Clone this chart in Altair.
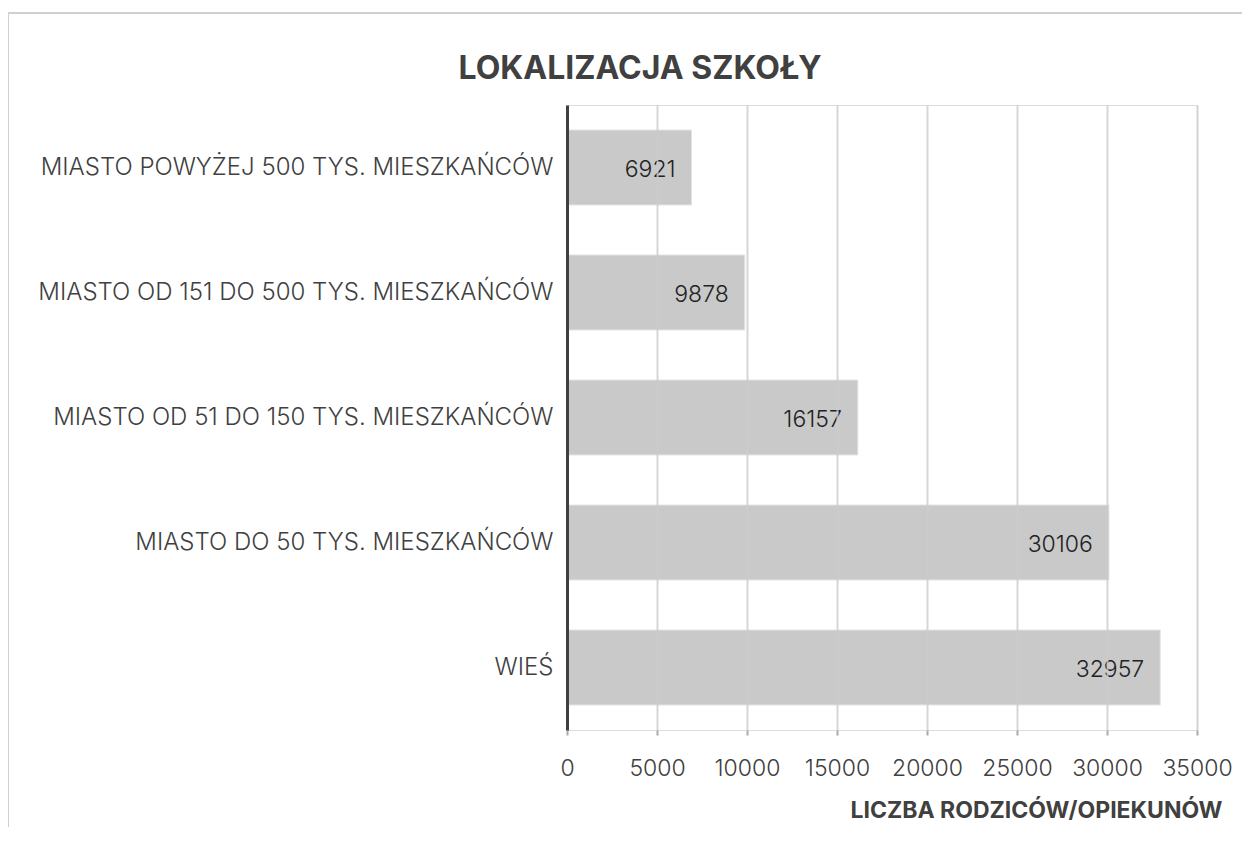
import altair as alt
import pandas as pd

categories = [
    "MIASTO POWYŻEJ 500 TYS. MIESZKAŃCÓW",
    "MIASTO OD 151 DO 500 TYS. MIESZKAŃCÓW",
    "MIASTO OD 51 DO 150 TYS. MIESZKAŃCÓW",
    "MIASTO DO 50 TYS. MIESZKAŃCÓW\u00a0",
    "WIEŚ\u00a0",
]
values = [6921, 9878, 16157, 30106, 32957]
x_ticks = [0, 5000, 10000, 15000, 20000, 25000, 30000, 35000]
title_text = ["LOKALIZACJA SZKOŁY"]

df = pd.DataFrame({"kategoria": categories, "liczba": values})

FONT = "Inter"
W, H = 630, 625

y_enc = alt.Y("kategoria:N", sort=categories,
              scale=alt.Scale(paddingInner=0.4, paddingOuter=0.2),
              axis=alt.Axis(title=None, labelFontSize=24, labelColor="#404040",
                            labelFont=FONT, labelFontWeight=300, labelPadding=14, ticks=False,
                            domainColor="#404040", domainWidth=3,
                            labelLimit=600, zindex=2))

bars = alt.Chart(df).mark_bar(color="#c9c9c9", stroke="#e4e4e4", strokeWidth=1).encode(
    x=alt.X("liczba:Q", scale=alt.Scale(domain=[0, 35000], nice=False),
            axis=alt.Axis(values=x_ticks, format="d", title="LICZBA RODZICÓW/OPIEKUNÓW",
                          titleFont=FONT, titleFontSize=23, titleFontWeight="bold",
                          titleColor="#404040", titleAnchor="end", titleAlign="right",
                          titleX=655, titleY=80, titleBaseline="middle",
                          labelFont=FONT, labelFontSize=23, labelFontWeight=300,
                          labelColor="#404040", labelOverlap=False, labelFlush=False,
                          labelPadding=22, labelBaseline="top",
                          domain=False, tickSize=5, tickColor="#aaaaaa", tickWidth=2,
                          grid=True, gridColor="#cccccc", gridWidth=2, gridOpacity=0.8,
                          zindex=1)),
    y=y_enc,
)

text = alt.Chart(df).mark_text(align="right", baseline="middle", dx=-16, dy=2,
                               fontSize=23, font=FONT, fontWeight=300, color="#222222").encode(
    x="liczba:Q",
    y=alt.Y("kategoria:N", sort=categories),
    text=alt.Text("liczba:Q", format="d"),
)

title_df = pd.DataFrame({"t": title_text})
title = alt.Chart(title_df).mark_text(align="center", baseline="middle", fontSize=32,
                                      font=FONT, fontWeight="bold", color="#404040").encode(
    x=alt.value(73), y=alt.value(-36), text="t:N")

frame_left = alt.Chart(df).mark_rule(color="#d0d0d0", strokeWidth=2).encode(
    x=alt.value(-559), y=alt.value(-92), y2=alt.value(740))
frame_top = alt.Chart(df).mark_rule(color="#d0d0d0", strokeWidth=2).encode(
    x=alt.value(-559), x2=alt.value(690), y=alt.value(-92))

chart = alt.layer(bars, text, title, frame_left, frame_top).properties(
    width=W, height=H,
    autosize=alt.AutoSizeParams(type="none"),
    padding={"left": 559, "top": 97, "right": 45, "bottom": 97},
).configure_view(stroke=None).configure(background="white")

chart.save("out.html", embed_options={"renderer": "svg", "actions": False})
